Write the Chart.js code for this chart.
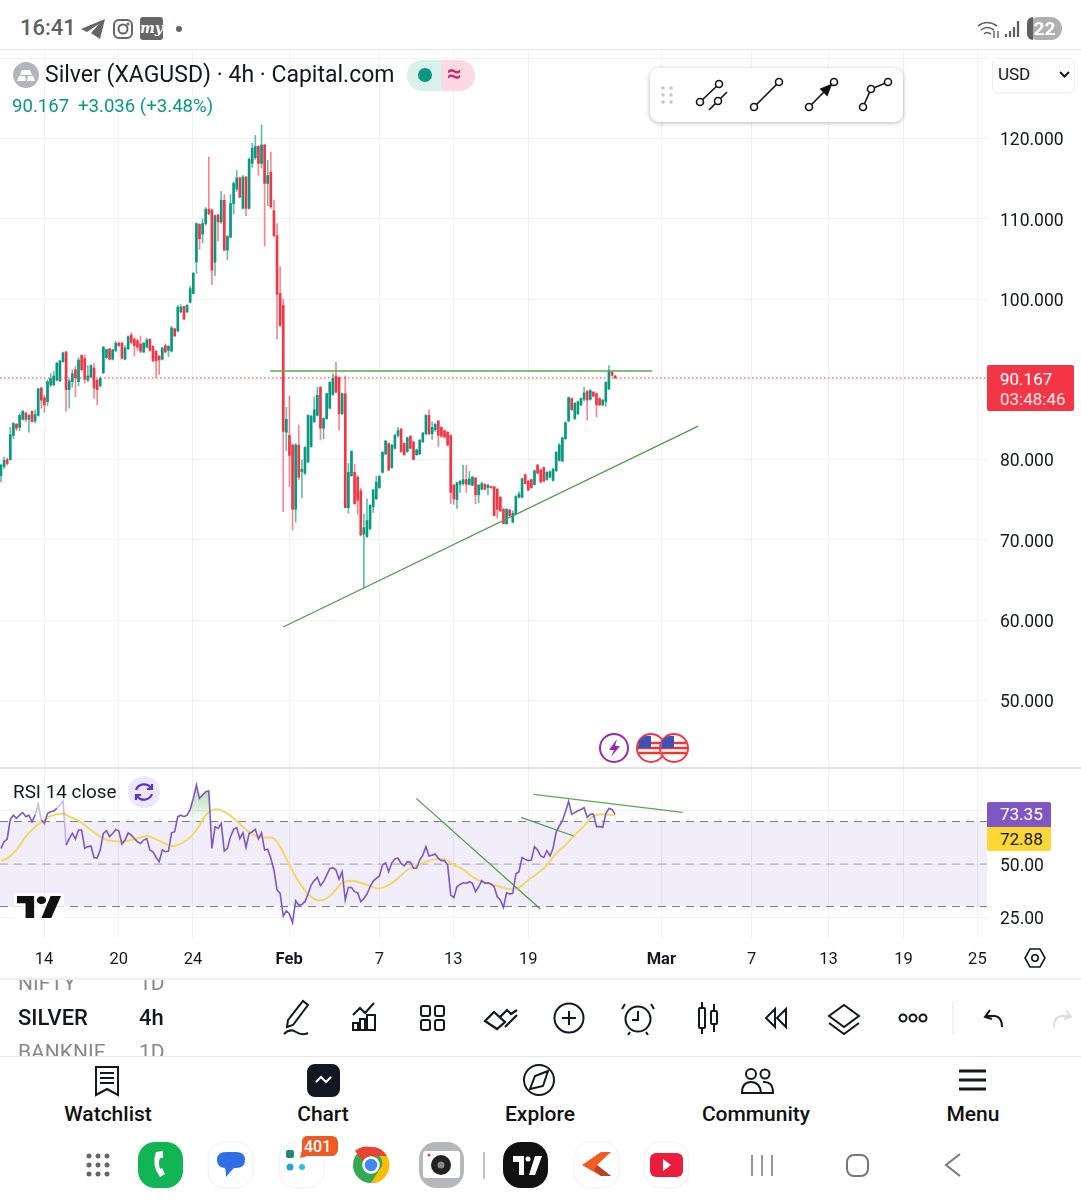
<!DOCTYPE html>
<html>
<head>
<meta charset="utf-8">
<title>Silver (XAGUSD) 4h</title>
<script src="https://cdn.jsdelivr.net/npm/chart.js@4/dist/chart.umd.js"></script>
<style>
  html, body { margin: 0; padding: 0; background: #fff; }
  body { position: relative; width: 1081px; height: 1200px; overflow: hidden; font-family: Roboto, sans-serif; color: #131722; }
  .abs { position: absolute; white-space: nowrap; }
  canvas { position: absolute; left: 0; display: block; }
  svg { position: absolute; overflow: visible; }
  .line { position: absolute; left: 0; width: 1081px; }
  .navlabel { position: absolute; top: 1102px; width: 160px; text-align: center; font-size: 21px; font-weight: 500; color: #111; }
</style>
</head>
<body>

<!-- status bar -->
<div class="abs" style="left:20px;top:15px;font-size:22px;color:#5f5f5f;font-weight:500">16:41</div>
<svg style="left:80px;top:18px" width="26" height="22" viewBox="0 0 26 22"><path d="M1 11 25 1 20 21 11 15 19 6 7 14Z" fill="#666"/></svg>
<svg style="left:112px;top:18px" width="22" height="22" viewBox="0 0 22 22" fill="none" stroke="#666" stroke-width="2"><rect x="2" y="2" width="18" height="18" rx="5"/><circle cx="11" cy="11" r="4.5"/><circle cx="16" cy="6" r=".6"/></svg>
<div class="abs" style="left:140px;top:17px;width:23px;height:23px;background:#666;border-radius:3px;color:#fff;font:italic bold 14px/23px 'DejaVu Serif',serif;text-align:center">my</div>
<div class="abs" style="left:176px;top:26px;width:6px;height:6px;border-radius:3px;background:#666"></div>
<svg style="left:977px;top:18px" width="44" height="22" viewBox="0 0 44 22" fill="none" stroke="#5f5f5f" stroke-width="1.6"><path d="M1 8Q10 1 20 8M4 12Q10 7 17 12M7 16Q10 13 14 16"/><path d="M17 13v7M21 13v7" stroke-width="1.400"/><path d="M29 19v-3M33 19v-6M37 19V9M41 19V3" stroke-width="2.200"/></svg>
<div class="abs" style="left:1027px;top:17px;width:35px;height:23px;border-radius:12px;background:#b0b0b0;color:#fff;font-size:19px;font-weight:700;line-height:23px;text-align:center">22</div>
<div class="abs" style="left:1027px;top:17px;width:6px;height:23px;border-radius:12px 0 0 12px;background:#5f5f5f"></div>

<div class="line" style="top:49px;height:1px;background:#e8e8e8"></div>

<!-- price panel -->
<canvas id="priceChart" width="1081" height="718" style="top:50px;width:1081px;height:718px"></canvas>

<!-- legend -->
<svg style="left:13px;top:62px" width="26" height="26" viewBox="0 0 26 26"><circle cx="13" cy="13" r="13" fill="#b2b5be"/><path d="M9 8h8l2 5H7ZM4 19l2-5h6l1 5ZM14 19l1-5h5l2 5Z" fill="#fff"/></svg>
<div class="abs" style="left:45px;top:61px;font-size:23px;color:#131722">Silver (XAGUSD) · 4h · Capital.com</div>
<div class="abs" style="left:407px;top:60px;width:34px;height:31px;background:#daf0ec;border-radius:15px 0 0 15px"></div>
<div class="abs" style="left:441px;top:60px;width:34px;height:31px;background:#fbd9e5;border-radius:0 15px 15px 0"></div>
<div class="abs" style="left:418px;top:68px;width:14px;height:14px;border-radius:7px;background:#089981"></div>
<div class="abs" style="left:447px;top:58px;font-size:26px;font-weight:700;color:#cc2f6b">≈</div>
<div class="abs" style="left:12px;top:95px;font-size:18.6px;color:#089981">90.167</div>
<div class="abs" style="left:78px;top:95px;font-size:18.6px;color:#089981">+3.036 (+3.48%)</div>

<!-- drawing toolbar -->
<div class="abs" style="left:650px;top:68px;width:253px;height:54px;background:#fff;border-radius:9px;box-shadow:0 1px 5px rgba(0,0,0,.28)"></div>
<svg style="left:650px;top:68px" width="253" height="54" viewBox="650 68 253 54" fill="#fff" stroke="#111" stroke-width="1.6">
  <g fill="#c8c8c8" stroke="none"><circle cx="663" cy="88" r="1.8"/><circle cx="671" cy="88" r="1.8"/><circle cx="663" cy="95" r="1.8"/><circle cx="671" cy="95" r="1.8"/><circle cx="663" cy="102" r="1.8"/><circle cx="671" cy="102" r="1.8"/></g>
  <path d="M700 102 719 84M709 110 727 92M754 107 779 82M809 107 834 82M863 107 871 89 888 82" fill="none"/>
  <circle cx="700" cy="102" r="3.5"/><circle cx="719" cy="84" r="3.5"/><circle cx="718" cy="101" r="3.5"/>
  <circle cx="754" cy="107" r="3.5"/><circle cx="779" cy="82" r="3.5"/>
  <circle cx="809" cy="107" r="3.5"/><circle cx="834" cy="82" r="3.5"/>
  <path d="M831 85 821 89 827 95Z" fill="#111"/>
  <circle cx="863" cy="107" r="3.5"/><circle cx="871" cy="89" r="3.5"/><circle cx="888" cy="82" r="3.5"/>
</svg>

<!-- currency box -->
<div class="abs" style="left:992px;top:58px;width:81px;height:33px;border:1px solid #eceef2;border-radius:5px;background:#fff"></div>
<div class="abs" style="left:998px;top:64px;font-size:17px;color:#131722">USD</div>
<svg style="left:1059px;top:71px" width="11" height="7" viewBox="0 0 11 7"><path d="M1 1 5.5 5.500 10 1" fill="none" stroke="#131722" stroke-width="2"/></svg>

<!-- last price tag -->
<div class="abs" style="left:987px;top:365px;width:87px;height:46px;background:#f23645;border-radius:2px;color:#fff;font-size:17px;line-height:20px;padding:4px 0 0 13px;box-sizing:border-box">90.167<br><span style="color:#fde3e5">03:48:46</span></div>

<!-- event markers -->
<svg style="left:598px;top:732px" width="96" height="32" viewBox="598 732 96 32">
  <circle cx="614" cy="748" r="14" fill="#fff" stroke="#9c27b0" stroke-width="2"/>
  <path d="M617 739 609 750H614L611 757 620 746H615Z" fill="#9c27b0"/>
  <g id="flag1"><circle cx="651" cy="748" r="14" fill="#fff" stroke="#f23645" stroke-width="2"/><path d="M639 743h24M638 748h26M639 753h24" stroke="#e53935" stroke-width="2.500"/><path d="M639 741a13 13 0 0 1 12-5v12h-13Z" fill="#3f51b5"/></g>
  <circle cx="674" cy="748" r="14" fill="#fff" stroke="#f23645" stroke-width="2"/><path d="M662 743h24M661 748h26M662 753h24" stroke="#e53935" stroke-width="2.500"/><path d="M662 741a13 13 0 0 1 12-5v12h-13Z" fill="#3f51b5"/>
</svg>

<!-- RSI panel -->
<canvas id="rsiChart" width="1081" height="210" style="top:768px;width:1081px;height:210px"></canvas>
<div class="line" style="top:767px;height:2px;background:#e0e3eb"></div>
<div class="line" style="top:978px;height:2px;background:#eeeeee"></div>

<div class="abs" style="left:13px;top:780px;font-size:18.9px;color:#131722">RSI 14 close</div>
<div class="abs" style="left:128px;top:776px;width:32px;height:32px;border-radius:16px;background:#ede7fb"></div>
<svg style="left:133px;top:781px" width="22" height="22" viewBox="0 0 22 22" fill="none" stroke="#5e35c4" stroke-width="2.200"><path d="M3 9A8.500 8.500 0 0 1 18 7M19 13A8.500 8.500 0 0 1 4 15"/><path d="M19 3v5h-5M3 19v-5h5"/></svg>
<div class="abs" style="left:14px;top:893px;width:50px;height:27px;background:rgba(255,255,255,.75);border-radius:3px"></div>
<svg style="left:17px;top:896px" width="44" height="22" viewBox="0 4 36 21" preserveAspectRatio="none"><path d="M14 25H7V11H0V4h14ZM28 25h-8l7.500-21H36Z" fill="#111"/><circle cx="20" cy="8" r="3.800" fill="#111"/></svg>

<div class="abs" style="left:987px;top:802px;width:64px;height:25px;background:#7e57c2;color:#fff;font-size:17px;line-height:25px;text-indent:13px;border-radius:2px 2px 0 0">73.35</div>
<div class="abs" style="left:987px;top:827px;width:64px;height:24px;background:#fdd835;color:#131722;font-size:17px;line-height:25px;text-indent:13px;border-radius:0 0 2px 2px">72.88</div>

<svg style="left:1024px;top:948px" width="22" height="20" viewBox="0 0 22 20" fill="none" stroke="#131722" stroke-width="1.600"><path d="M6 1h10l5 9-5 9H6l-5-9Z"/><circle cx="11" cy="10" r="3.200"/></svg>

<!-- symbol list and tool row -->
<div class="abs" style="left:0;top:980px;width:260px;height:76px;overflow:hidden">
  <div class="abs" style="left:18px;top:-9px;font-size:21px;color:#888">NIFTY</div>
  <div class="abs" style="left:139px;top:-9px;font-size:21px;color:#888">1D</div>
  <div class="abs" style="left:18px;top:25px;font-size:22px;font-weight:500">SILVER</div>
  <div class="abs" style="left:139px;top:25px;font-size:22px;font-weight:500">4h</div>
  <div class="abs" style="left:18px;top:60px;font-size:21px;color:#888">BANKNIF</div>
  <div class="abs" style="left:139px;top:60px;font-size:21px;color:#888">1D</div>
</div>
<svg style="left:270px;top:995px" width="811" height="46" viewBox="270 995 811 46" fill="none" stroke="#131722" stroke-width="2">
  <path d="M288 1020 303 1001 308 1005 293 1025 287 1027ZM284 1034Q290 1028 296 1032T308 1033"/>
  <path d="M353 1030v-7h5v7M360 1030v-11h5v11M367 1030v-15h8v15M352 1030h24M353 1015l7-7 5 5 9-10"/>
  <rect x="421" y="1006" width="9" height="10" rx="2"/><rect x="435" y="1006" width="9" height="10" rx="2"/><rect x="421" y="1020" width="9" height="10" rx="2"/><rect x="435" y="1020" width="9" height="10" rx="2"/>
  <path d="M485 1021 494 1012 505 1022 497 1029ZM499 1018 507 1010 511 1014 517 1010M505 1027 517 1015" stroke-width="2.200"/>
  <circle cx="569" cy="1018" r="14.500"/><path d="M569 1011v14M562 1018h14"/>
  <circle cx="638" cy="1019" r="12.500"/><path d="M638 1011v9h-6M625 1004l-3 5M651 1004l3 5M630 1032l-2 3M646 1032l2 3"/>
  <rect x="699" y="1008" width="6" height="20" rx="1"/><path d="M702 1002v6M702 1028v6M714 1004v7M714 1024v8"/><rect x="711" y="1011" width="6" height="13" rx="1"/>
  <path d="M775 1009 766 1018 775 1027ZM786 1009 777 1018 786 1027Z"/>
  <path d="M844 1005 859 1016 844 1027 829 1016ZM829 1023 844 1034 859 1023"/>
  <circle cx="903" cy="1018" r="3.500"/><circle cx="913" cy="1018" r="3.500"/><circle cx="923" cy="1018" r="3.500"/>
  <path d="M953 1001v34" stroke="#e4e4e4" stroke-width="1"/>
  <path d="M990 1010 985 1017 992 1019M985 1016H995Q1002 1017 1002 1027"/>
  <path d="M1066 1010 1071 1017 1064 1019M1071 1016H1061Q1054 1017 1054 1027" stroke="#ddd"/>
</svg>
<div class="line" style="top:1056px;height:1px;background:#e6e6e6"></div>

<!-- bottom navigation -->
<svg style="left:90px;top:1063px" width="900" height="34" viewBox="90 1063 900 34" fill="none" stroke="#131722" stroke-width="2">
  <path d="M96 1067h22v28l-11-6-11 6ZM100 1073h14M100 1078h14M100 1083h14"/>
  <rect x="308" y="1065" width="31" height="31" rx="7" fill="#131722"/><path d="M316 1082l5-5 5 5 5-5" stroke="#fff"/>
  <circle cx="539" cy="1080" r="15"/><path d="M548 1071 543 1086 530 1089 535 1076Z"/>
  <circle cx="751" cy="1074" r="5"/><circle cx="765" cy="1074" r="4.500"/><path d="M742 1093q0-11 9-11t10 11ZM763 1082q10-1 10 11h-11"/>
  <path d="M959 1071h27M959 1080h27M959 1089h27" stroke-width="3"/>
</svg>
<div class="navlabel" style="left:28px">Watchlist</div>
<div class="navlabel" style="left:243px">Chart</div>
<div class="navlabel" style="left:460px">Explore</div>
<div class="navlabel" style="left:676px">Community</div>
<div class="navlabel" style="left:893px">Menu</div>

<!-- dock -->
<svg style="left:80px;top:1138px" width="900" height="54" viewBox="80 1138 900 54">
  <g fill="#666"><circle cx="89" cy="1156" r="2.500"/><circle cx="98" cy="1156" r="2.500"/><circle cx="107" cy="1156" r="2.500"/><circle cx="89" cy="1165" r="2.500"/><circle cx="98" cy="1165" r="2.500"/><circle cx="107" cy="1165" r="2.500"/><circle cx="89" cy="1174" r="2.500"/><circle cx="98" cy="1174" r="2.500"/><circle cx="107" cy="1174" r="2.500"/></g>
  <rect x="138" y="1142" width="45" height="46" rx="17" fill="#12b554"/><path d="M156 1152q-5 13 4 25l5-3-3-6-2 1q-2-6 0-11l3 0 0-7Z" fill="#fff"/>
  <rect x="208" y="1142" width="45" height="46" rx="17" fill="#fff" stroke="#f0f0f0"/><path d="M217 1160q0-8 9-8h10q9 0 9 8t-9 8h-2q-5 5-8 9 0-6-1-9-8-1-8-8Z" fill="#2f6fe4"/>
  <rect x="279" y="1142" width="45" height="46" rx="17" fill="#fff" stroke="#f0f0f0"/><rect x="286" y="1150" width="8" height="8" rx="2" fill="#1f8a70"/><circle cx="290" cy="1167" r="3.500" fill="#2f9fe4"/><circle cx="302" cy="1167" r="3" fill="#26c6da"/>
  <circle cx="371" cy="1165" r="18" fill="#34a853"/><path d="M371 1147a18 18 0 0 1 16 9h-16a9 9 0 0 0-8 5l-8-10a18 18 0 0 1 16-4Z" fill="#ea4335"/><path d="M387 1156a18 18 0 0 1-16 27l8-13a9 9 0 0 0 0-14Z" fill="#fbbc05"/><circle cx="371" cy="1165" r="7.500" fill="#4285f4" stroke="#fff" stroke-width="2.500"/>
  <rect x="419" y="1142" width="45" height="46" rx="17" fill="#b4b8bd"/><rect x="423" y="1151" width="37" height="27" rx="3" fill="#fff"/><circle cx="441" cy="1165" r="10" fill="#222"/><circle cx="441" cy="1165" r="3.500" fill="#888"/><circle cx="429" cy="1155" r="1.500" fill="#ea4335"/>
  <path d="M484 1152v27" stroke="#888"/>
  <rect x="503" y="1142" width="45" height="46" rx="18" fill="#111"/><path d="M524 1175h-5v-13h-6v-6h11ZM535 1175h-6l6-19h7Z" fill="#fff"/><circle cx="528" cy="1159" r="2.500" fill="#fff"/>
  <rect x="574" y="1142" width="45" height="46" rx="17" fill="#fff" stroke="#f0f0f0"/><path d="M582 1165 601 1152h10l-14 13 14 11h-10Z" fill="#f25c1f"/><path d="M597 1165l14 11h-10l-7-6Z" fill="#b8432a"/>
  <rect x="644" y="1142" width="45" height="46" rx="17" fill="#fff" stroke="#f0f0f0"/><rect x="650" y="1153" width="33" height="24" rx="6" fill="#ec1c3c"/><path d="M663 1159l8 6-8 6Z" fill="#fff"/>
  <path d="M752 1155v21M762 1155v21M772 1155v21" stroke="#777" stroke-width="1.500"/>
  <rect x="847" y="1155" width="21" height="21" rx="7" fill="none" stroke="#777" stroke-width="2"/>
  <path d="M960 1154 946 1165 960 1176" fill="none" stroke="#777" stroke-width="2"/>
</svg>
<svg style="left:300px;top:1136px" width="38" height="24" viewBox="0 0 38 24"><path d="M6 0h26a6 6 0 0 1 6 6v8a6 6 0 0 1-6 6H8L0 22l2-8V6a6 6 0 0 1 4-6Z" fill="#ee5a24"/></svg>
<div class="abs" style="left:304px;top:1137px;font-size:16px;font-weight:500;color:#fff">401</div>

<script>
// bar data, one entry per 4h candle
const opens = [
  78.0,79.1,80.0,80.0,83.0,84.4,84.0,85.0,85.8,85.0,
  86.0,84.8,85.5,88.9,87.7,87.2,89.3,89.3,89.9,89.8,
  92.2,93.4,88.7,89.7,91.2,89.7,93.0,92.6,89.9,90.3,
  91.4,89.9,89.2,90.8,92.7,93.8,92.5,93.6,94.5,94.5,
  92.5,93.8,95.5,95.0,94.8,94.4,93.4,94.0,95.0,94.1,
  93.5,92.9,92.5,94.2,93.6,93.5,96.3,96.0,98.4,99.1,
  98.4,99.6,100.7,104.6,109.3,108.1,109.4,111.2,111.1,104.6,
  110.5,109.6,112.3,106.1,107.7,111.9,113.7,115.1,111.3,115.2,
  111.3,116.9,117.6,119.0,116.9,119.2,114.4,115.8,111.0,107.9,
  100.7,99.2,83.4,83.0,81.8,73.8,81.8,78.5,78.3,79.7,
  81.6,84.7,85.5,89.0,83.9,85.1,86.4,88.1,90.4,90.2,
  85.7,88.2,74.0,78.0,78.4,77.8,76.1,70.7,70.4,71.4,
  74.1,75.1,76.5,78.4,80.7,82.0,79.0,81.4,83.0,83.8,
  82.0,81.0,82.9,82.2,80.6,80.7,82.2,83.2,85.5,83.2,
  83.7,84.8,84.0,83.6,83.4,83.0,76.8,75.0,76.9,77.0,
  77.5,76.9,76.8,77.7,75.6,76.3,76.9,76.5,76.6,76.6,
  76.3,75.3,73.8,72.0,73.7,72.2,73.2,75.3,75.3,78.1,
  77.3,77.5,76.9,79.3,78.7,79.0,77.5,77.8,77.4,78.6,
  79.9,79.8,82.6,84.8,87.6,85.1,85.7,86.8,87.5,88.5,
  87.5,88.4,88.2,87.6,86.8,87.2,88.8,90.9,90.4
];
const highs = [
  79.4,80.3,80.2,84.0,84.6,84.5,85.7,86.1,85.9,85.6,
  86.0,86.2,88.9,89.0,88.0,89.9,90.7,91.0,92.1,92.4,
  93.4,93.5,90.0,91.2,91.6,92.7,93.0,93.0,91.7,91.8,
  92.0,90.0,90.3,94.1,93.7,93.8,93.7,94.7,94.6,94.6,
  94.2,95.4,95.8,95.2,95.0,95.4,94.6,95.1,95.0,94.2,
  93.6,92.9,94.0,94.4,94.2,96.6,96.4,99.2,99.3,99.1,
  99.3,101.6,103.3,109.5,109.4,110.0,111.4,117.7,111.2,110.5,
  110.5,113.4,113.0,107.9,113.0,114.6,116.0,115.2,115.4,115.3,
  117.6,119.4,120.4,119.1,121.7,119.3,117.3,118.3,112.3,109.4,
  104.0,100.0,86.5,87.9,82.0,82.0,84.3,79.9,81.6,85.6,
  85.5,87.8,89.0,89.1,85.2,88.3,89.7,90.7,92.1,90.3,
  88.3,90.4,79.5,81.1,79.4,78.0,76.4,73.2,75.1,74.4,
  76.3,77.9,78.0,81.0,82.4,82.1,81.9,83.2,84.0,83.9,
  82.1,82.8,83.0,82.3,81.3,82.5,83.4,85.6,86.2,84.7,
  84.5,84.9,84.1,83.7,83.5,83.1,76.9,77.2,77.4,79.3,
  79.3,78.5,77.9,77.8,76.9,77.2,77.0,76.9,76.7,76.7,
  76.4,75.4,73.9,73.9,73.8,73.6,75.5,76.0,77.7,78.2,
  77.4,77.6,78.7,79.4,78.8,79.1,78.5,78.6,78.9,81.0,
  82.0,82.8,84.7,87.8,87.7,87.1,87.3,87.7,89.0,88.6,
  88.7,88.5,88.3,87.7,87.5,89.7,91.7,91.0,90.5
];
const lows = [
  77.2,78.9,79.3,79.9,82.6,83.6,83.6,84.9,84.7,83.4,
  84.7,84.6,85.4,86.4,85.9,86.7,89.1,89.2,89.8,89.7,
  92.1,86.0,86.4,89.0,87.8,89.2,91.0,89.5,89.7,90.2,
  87.6,86.8,89.0,90.7,92.6,92.4,92.4,93.4,94.1,92.5,
  92.4,93.7,94.4,92.9,93.6,93.3,93.3,93.9,93.5,92.2,
  90.2,90.6,92.4,93.3,92.8,93.4,95.3,95.9,98.3,97.4,
  98.3,99.5,100.6,103.2,106.2,107.0,109.2,110.5,101.8,102.9,
  107.2,109.4,106.0,104.9,107.6,110.6,113.4,112.6,111.2,110.4,
  111.2,116.4,117.4,115.4,116.3,106.6,111.6,111.3,107.7,95.0,
  96.6,73.5,81.1,76.6,71.2,72.2,77.5,75.2,78.1,79.6,
  81.5,84.6,85.4,82.5,82.6,85.0,86.3,88.0,88.3,83.7,
  85.6,74.0,73.3,77.9,74.4,73.2,70.5,64.0,70.3,71.2,
  73.4,75.0,76.4,78.3,80.6,78.6,78.9,81.3,82.8,80.9,
  80.5,80.9,81.3,79.9,80.5,80.6,82.1,83.1,83.1,82.5,
  83.5,81.6,82.8,82.7,81.7,74.5,74.4,73.9,75.9,76.8,
  75.9,76.8,76.7,74.5,74.6,76.2,76.2,75.6,76.4,73.0,
  72.7,73.5,72.0,71.9,72.9,72.1,73.1,75.2,75.2,76.9,
  76.1,76.4,76.8,78.2,77.1,77.2,77.4,77.7,77.3,78.5,
  79.8,79.7,82.5,84.7,86.1,85.0,85.6,86.7,87.3,84.9,
  87.4,87.8,85.3,86.7,86.7,86.6,88.7,90.4,90.1
];
const closes = [
  79.3,79.9,79.5,83.1,84.5,83.9,85.5,86.0,85.0,85.5,
  84.7,85.6,88.8,87.4,86.8,89.7,90.1,90.4,92.0,92.3,
  93.3,88.7,89.8,90.7,90.2,92.4,91.2,90.0,90.4,91.7,
  88.9,88.7,90.1,94.0,93.7,92.5,93.7,94.5,94.2,92.6,
  93.9,95.3,94.6,94.2,94.0,93.5,94.5,94.9,93.6,92.3,
  92.3,92.4,93.9,93.4,94.1,96.4,95.4,99.0,99.0,97.5,
  99.2,101.3,103.2,109.4,107.5,109.4,111.2,110.6,103.6,110.4,
  109.6,112.3,106.1,107.8,111.9,114.4,115.1,112.7,115.2,111.3,
  117.4,118.8,119.0,116.9,119.2,114.4,115.4,111.5,107.9,100.6,
  96.7,83.5,85.0,80.5,73.8,81.8,77.8,78.8,81.5,85.5,
  85.4,86.2,88.0,83.9,85.1,88.2,89.6,90.1,88.4,85.7,
  88.2,74.0,78.4,81.0,74.5,74.9,70.6,71.5,72.4,74.3,
  76.2,77.2,77.9,80.9,82.3,78.7,81.8,83.0,83.6,81.0,
  80.6,82.7,81.4,80.0,81.2,82.4,83.3,85.5,83.2,84.0,
  84.4,83.0,82.9,82.8,81.8,75.9,75.1,77.1,77.3,77.5,
  76.9,77.6,77.8,75.6,76.8,77.0,76.3,76.8,76.5,73.0,
  73.8,73.6,72.0,73.8,73.0,73.3,75.4,75.7,77.6,77.0,
  76.2,76.5,78.6,78.3,77.2,77.3,78.4,78.5,78.8,80.9,
  81.8,82.7,84.6,87.7,86.2,87.0,87.2,87.6,88.3,87.4,
  88.6,87.9,86.8,86.8,87.4,89.6,91.1,90.5,90.167
];

// RSI(14), one value per candle
const rsiValues = [
  57.4,60.5,61.8,71.0,73.0,71.5,73.0,74.2,72.3,73.0,
  69.9,73.0,78.2,70.7,69.1,73.8,74.6,75.0,76.2,77.8,
  79.8,58.9,62.0,64.4,61.8,66.0,66.0,57.4,58.2,58.5,
  53.1,52.8,56.6,64.4,65.7,62.9,64.4,66.3,65.5,59.4,
  61.3,64.7,63.6,62.0,60.5,59.7,61.3,62.0,56.6,55.8,
  53.1,51.1,56.6,55.8,56.1,64.7,65.2,72.3,73.0,72.3,
  73.0,75.7,80.9,87.2,80.9,82.5,84.0,84.4,57.4,67.6,
  66.8,69.1,56.1,57.4,62.9,66.3,67.1,62.0,64.7,57.8,
  64.4,65.2,66.3,61.8,64.7,56.6,57.0,52.7,47.2,37.8,
  36.2,25.5,28.0,26.5,22.4,32.7,30.7,31.0,32.3,35.9,
  40.1,42.2,43.7,39.8,41.7,44.8,47.8,48.3,47.2,42.9,
  46.4,33.1,39.0,39.0,37.0,36.5,32.3,33.8,35.9,39.3,
  42.0,43.3,44.4,49.5,50.6,46.4,50.6,52.4,52.8,50.3,
  49.1,51.1,50.9,48.0,48.0,51.9,54.2,58.2,53.8,54.2,
  54.7,52.7,51.6,51.6,49.5,35.4,34.2,39.3,40.4,41.2,
  40.9,41.7,40.9,37.0,39.3,42.2,40.9,41.2,40.6,39.3,
  34.6,33.1,29.5,36.5,35.9,36.2,45.3,46.4,53.1,52.2,
  51.6,51.9,58.2,56.6,53.8,53.1,56.3,53.8,57.4,65.2,
  67.9,70.4,74.6,79.5,73.4,74.2,75.1,75.7,76.5,72.0,
  73.4,73.5,67.6,67.6,67.3,73.8,76.2,75.7,73.35
];

// yellow RSI average, read at these candles
const maBars = [0,2,5,8,11,14,16,20,22,25,29,33,36,41,44,47,50,54,56,60,63,66,68,71,75,79,82,85,88,90,93,96,99,102,105,108,110,113,116,119,122,125,128,131,134,137,140,143,146,149,152,155,158,161,164,167,170,173,176,179,182,185,188,191,194,198];
const maValues = [51.6,52.7,56.6,62.9,67.6,70.7,72.6,73.8,72.3,70.4,66.0,62.0,60.8,61.0,62.0,63.2,61.6,58.9,58.5,61.3,66.0,73.0,75.4,75.4,71.5,66.3,63.3,62.5,62.0,58.2,49.5,41.7,35.9,33.0,33.8,38.1,41.2,42.2,41.2,39.6,38.5,40.1,43.3,47.2,49.1,51.1,52.2,52.2,49.5,47.5,44.0,41.7,40.4,39.3,38.2,39.0,42.5,45.6,49.5,55.0,58.9,63.6,67.9,72.6,73.4,72.88];

// drawn lines, as [bar, value] ends
const resistanceLine = [[86.8,91.03],[210,91.03]];
const supportLine = [[91,59.13],[224.8,84.17]];
const rsiLineA = [[133.9,80.9],[173.9,28.8]];
const rsiLineB = [[171.7,82.8],[219.8,74.3]];
const rsiLineC = [[167.7,72.0],[184.6,63.2]];

const lastPrice = 90.167;
const priceTicks = [130,120,110,100,90,80,70,60,50];
const rsiTicks = [75,50,25];
const hiddenLabels = [130,75];

// time axis: labels sit on these candle slots
const timeLabels = ['14','20','24','Feb','7','13','19','Mar','7','13','19','25'];
const timeBars = [13.9,38,61.9,92.9,122,145.8,170,212.9,242,266.8,291,314.8];
const boldLabels = ['Feb','Mar'];

const fontName = 'Roboto, sans-serif';
const green = '#089981';
const red = '#f23645';
const gridColor = '#eff1f5';
const barMin = -0.32;
const barMax = 317.9;

function pairs(arr) {
  return arr.map(p => ({ x: p[0], y: p[1] }));
}

function trendDataset(arr, color) {
  return { type: 'line', data: pairs(arr), borderColor: color, borderWidth: 1.3, pointRadius: 0, order: 0 };
}

function xScale(showLabels) {
  return {
    type: 'linear',
    offset: false,
    min: barMin,
    max: barMax,
    border: { display: false },
    // bar charts default to offset grid lines, which would move them off the ticks
    grid: { color: gridColor, drawTicks: false, lineWidth: 1, offset: false },
    afterBuildTicks(s) { s.ticks = timeBars.map(v => ({ value: v })); },
    afterFit(s) { s.height = showLabels ? 40 : 0; s.paddingLeft = 0; s.paddingRight = 0; },
    ticks: {
      display: showLabels,
      autoSkip: false,
      maxRotation: 0,
      padding: 12,
      color: '#131722',
      callback(v, i) { return timeLabels[i]; },
      font(ctx) {
        const label = timeLabels[ctx.index];
        return { family: fontName, size: 16.5, weight: boldLabels.includes(label) ? '700' : '400' };
      }
    }
  };
}

function yScale(min, max, tickList, decimals) {
  return {
    position: 'right',
    min,
    max,
    border: { display: false },
    grid: { color: gridColor, drawTicks: false },
    afterBuildTicks(s) { s.ticks = tickList.map(v => ({ value: v })); },
    afterFit(s) { s.width = 94; s.paddingTop = 0; s.paddingBottom = 0; },
    ticks: {
      crossAlign: 'near',
      padding: 13,
      labelOffset: 2.5,
      color: '#131722',
      font: { family: fontName, size: 17.5 },
      callback(v) { return hiddenLabels.includes(v) ? '' : v.toFixed(decimals); }
    }
  };
}

// price panel
const candleColors = closes.map((c, i) => (c >= opens[i] ? green : red));
const wickColors = closes.map((c, i) => (c >= opens[i] ? 'rgba(8,153,129,.65)' : 'rgba(242,54,69,.6)'));

new Chart(document.getElementById('priceChart'), {
  type: 'bar',
  data: {
    datasets: [
      {
        data: highs.map((h, i) => ({ x: i, y: [lows[i], h] })),
        backgroundColor: wickColors,
        barThickness: 1,
        grouped: false,
        order: 3
      },
      {
        data: closes.map((c, i) => ({ x: i, y: [opens[i], c] })),
        backgroundColor: candleColors,
        barThickness: 2,
        minBarLength: 1,
        grouped: false,
        order: 2
      },
      {
        type: 'line',
        data: [{ x: barMin, y: lastPrice }, { x: barMax, y: lastPrice }],
        borderColor: red,
        borderWidth: 1,
        borderDash: [1.5, 2.5],
        pointRadius: 0,
        order: 1
      },
      trendDataset(resistanceLine, '#5aa84f'),
      trendDataset(supportLine, '#4f9c47')
    ]
  },
  options: {
    responsive: false,
    animation: false,
    layout: { padding: 0 },
    plugins: { legend: { display: false }, tooltip: { enabled: false } },
    scales: { x: xScale(false), y: yScale(41.56, 131.03, priceTicks, 3) }
  }
});

// RSI panel
const rsiCanvas = document.getElementById('rsiChart');
const humpFill = rsiCanvas.getContext('2d').createLinearGradient(0, 15, 0, 55);
humpFill.addColorStop(0, 'rgba(76,175,80,.5)');
humpFill.addColorStop(1, 'rgba(76,175,80,0)');

const rsiPoints = rsiValues.map((v, i) => ({ x: i, y: v }));
const fadedBars = [11, 12, 18, 19, 20];

new Chart(rsiCanvas, {
  type: 'line',
  data: {
    datasets: [
      {
        data: [{ x: barMin, y: 70 }, { x: barMax, y: 70 }],
        borderColor: '#787b86',
        borderWidth: 1,
        borderDash: [8, 6],
        pointRadius: 0,
        fill: '+1',
        backgroundColor: 'rgba(126,87,194,.1)',
        order: 5
      },
      {
        data: [{ x: barMin, y: 30 }, { x: barMax, y: 30 }],
        borderColor: '#787b86',
        borderWidth: 1,
        borderDash: [8, 6],
        pointRadius: 0,
        order: 5
      },
      {
        data: [{ x: barMin, y: 50 }, { x: barMax, y: 50 }],
        borderColor: 'rgba(120,123,134,.6)',
        borderWidth: 1,
        borderDash: [8, 6],
        pointRadius: 0,
        order: 5
      },
      {
        // overbought shading on the late January peak
        data: rsiPoints.slice(60, 69),
        borderWidth: 0,
        pointRadius: 0,
        fill: { target: { value: 70 }, above: humpFill, below: 'rgba(0,0,0,0)' },
        order: 4
      },
      {
        data: maBars.map((b, i) => ({ x: b, y: maValues[i] })),
        borderColor: '#f5d667',
        borderWidth: 2,
        pointRadius: 0,
        tension: 0.4,
        order: 3
      },
      {
        data: rsiPoints,
        borderColor: '#7e57c2',
        borderWidth: 1.6,
        pointRadius: 0,
        segment: {
          borderColor: c => (fadedBars.includes(c.p0DataIndex) ? 'rgba(126,87,194,.4)' : undefined)
        },
        order: 2
      },
      trendDataset(rsiLineA, '#4f9c47'),
      trendDataset(rsiLineB, '#5aa84f'),
      trendDataset(rsiLineC, '#4f9c47')
    ]
  },
  options: {
    responsive: false,
    animation: false,
    layout: { padding: 0 },
    plugins: { legend: { display: false }, tooltip: { enabled: false } },
    scales: { x: xScale(true), y: yScale(15.2, 95.2, rsiTicks, 2) }
  }
});
</script>
</body>
</html>
